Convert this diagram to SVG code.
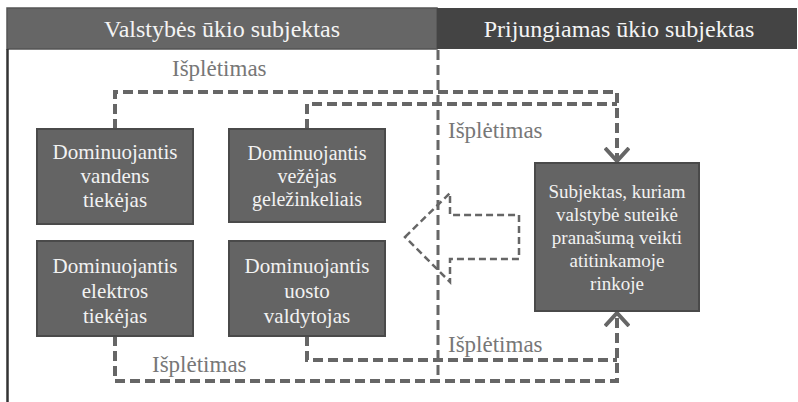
<svg xmlns="http://www.w3.org/2000/svg" width="798" height="402" viewBox="0 0 798 402">
<defs>
<style>
text{font-family:"Times New Roman","Liberation Serif","Noto Serif","DejaVu Serif",Times,serif}
.hdr{font-size:24px;fill:#f4f4f4;text-anchor:middle}
.box{fill:#646464;stroke:#4a4a4a;stroke-width:2}
.bt{fill:#f2f2f2;text-anchor:middle}
.lbl{font-size:23px;fill:#777777}
.con{fill:none;stroke:#666666;stroke-width:4;stroke-dasharray:10 5}
</style>
<marker id="chev" viewBox="0 0 18 26" refX="14" refY="13" markerWidth="18" markerHeight="26" markerUnits="userSpaceOnUse" orient="auto">
<path d="M1,1 L14,13 L1,25" fill="none" stroke="#666666" stroke-width="4" stroke-dasharray="none"/>
</marker>
</defs>
<rect width="798" height="402" fill="#ffffff"/>
<g id="header-left">
<rect x="7" y="8" width="430" height="41" fill="#666666" stroke="#555555" stroke-width="1.5"/>
<text class="hdr" x="222" y="37">Valstybės ūkio subjektas</text>
</g>
<g id="header-right">
<rect x="437" y="8" width="360" height="41" fill="#444444"/>
<text class="hdr" x="619" y="37">Prijungiamas ūkio subjektas</text>
</g>
<line x1="7.5" y1="49" x2="7.5" y2="402" stroke="#333333" stroke-width="2.5"/>
<g id="connectors">
<line x1="438" y1="50" x2="438" y2="381" stroke="#666666" stroke-width="3" stroke-dasharray="10 5"/>
<path class="con" d="M115,129 V92 H617 V161" marker-end="url(#chev)"/>
<path class="con" d="M307,129 V104 H617"/>
<path class="con" d="M115,336 V381 H617 V313" marker-end="url(#chev)"/>
<path class="con" d="M307,336 V360 H617"/>
<polygon points="405,237 450,193 450,215 519,215 519,259 450,259 450,282" fill="none" stroke="#666666" stroke-width="2.5" stroke-dasharray="7 4"/>
</g>
<g id="labels">
<text class="lbl" x="172" y="76">Išplėtimas</text>
<text class="lbl" x="448" y="138">Išplėtimas</text>
<text class="lbl" x="448" y="352">Išplėtimas</text>
<text class="lbl" x="152" y="372">Išplėtimas</text>
</g>
<g id="n1">
<rect class="box" x="37" y="129" width="156" height="95"/>
<text class="bt" font-size="21" x="115"><tspan x="115" y="159">Dominuojantis</tspan><tspan x="115" y="183">vandens</tspan><tspan x="115" y="207">tiekėjas</tspan></text>
</g>
<g id="n2">
<rect class="box" x="229" y="129" width="156" height="93"/>
<text class="bt" font-size="20" x="307"><tspan x="307" y="160">Dominuojantis</tspan><tspan x="307" y="183">vežėjas</tspan><tspan x="307" y="206">geležinkeliais</tspan></text>
</g>
<g id="n3">
<rect class="box" x="37" y="241" width="156" height="95"/>
<text class="bt" font-size="21" x="115"><tspan x="115" y="273">Dominuojantis</tspan><tspan x="115" y="298">elektros</tspan><tspan x="115" y="323">tiekėjas</tspan></text>
</g>
<g id="n4">
<rect class="box" x="229" y="241" width="156" height="95"/>
<text class="bt" font-size="21" x="307"><tspan x="307" y="273">Dominuojantis</tspan><tspan x="307" y="298">uosto</tspan><tspan x="307" y="323">valdytojas</tspan></text>
</g>
<g id="n5">
<rect class="box" x="535" y="163" width="164" height="148"/>
<text class="bt" font-size="19" x="617"><tspan x="617" y="198">Subjektas, kuriam</tspan><tspan x="617" y="221">valstybė suteikė</tspan><tspan x="617" y="244">pranašumą veikti</tspan><tspan x="617" y="267">atitinkamoje</tspan><tspan x="617" y="290">rinkoje</tspan></text>
</g>
</svg>
